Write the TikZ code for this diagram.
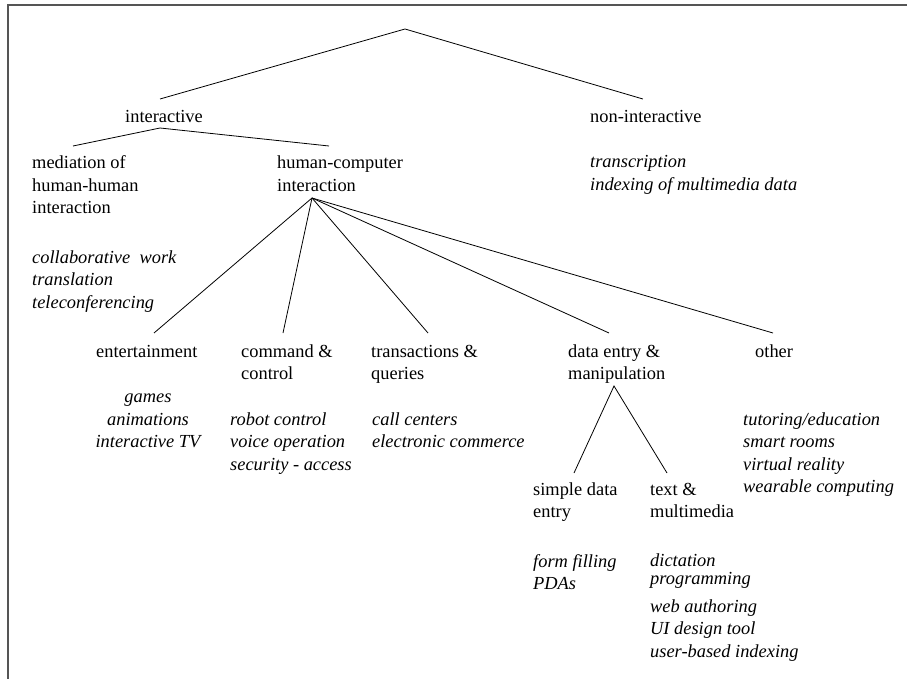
\documentclass[tikz,border=0pt]{standalone}
\usepackage{fontspec}
\setmainfont{Liberation Serif}
\usetikzlibrary{calc}
\definecolor{FrameGray}{RGB}{85,85,85}
\tikzset{
	term/.style={anchor=base west,inner sep=0pt,align=left,font=\fontsize{18.4}{22.5}\selectfont},
	usage/.style={term,font=\fontsize{18.4}{22.5}\selectfont\itshape},
	branch/.style={draw=black,line width=0.8pt},
}
\begin{document}
\begin{tikzpicture}[x=1pt,y=-1pt]
	\useasboundingbox (0,0) rectangle (907,679);
	\draw[FrameGray,line width=1.5pt] (8,679) -- (8,5) -- (907,5);
	\coordinate (root) at (405,29);
	\node[term] (inter) at (125,123) {interactive};
	\node[term] (nonint) at (590,123) {non-interactive};
	\node[usage] (nonintex) at (590,190.5) {transcription\\indexing of multimedia data};
	\node[term] (med) at (32,214) {mediation of\\human-human\\interaction};
	\node[usage] (medex) at (32,308) {collaborative\ \ work\\translation\\teleconferencing};
	\node[term] (hci) at (277,191.5) {human-computer\\interaction};
	\node[term] (ent) at (96,357) {entertainment};
	\node[term] (cmd) at (241,379.5) {command \&\\control};
	\node[term] (trans) at (371,379.5) {transactions \&\\queries};
	\node[term] (data) at (568,379.5) {data entry \&\\manipulation};
	\node[term] (other) at (755,357) {other};
	\node[usage,anchor=base,align=center] (entex) at (148,447.5) {games\\animations\\interactive TV};
	\node[usage] (cmdex) at (230,470) {robot control\\voice operation\\security - access};
	\node[usage] (transex) at (372,447.5) {call centers\\electronic commerce};
	\node[usage] (otherex) at (743,492.5) {tutoring/education\\smart rooms\\virtual reality\\wearable computing};
	\node[term] (simple) at (533,517.5) {simple data\\entry};
	\node[term] (text) at (650,517.5) {text \&\\multimedia};
	\node[usage] (simpleex) at (533,589.5) {form filling\\PDAs};
	\node[usage] (textex) at (650,657) {dictation\\[-4.5pt]programming\\[5.5pt]web authoring\\UI design tool\\user-based indexing};
	\draw[branch] ($(inter.base)+(-4,-24)$) -- (root) -- ($(nonint.base)+(-3,-24)$);
	\draw[branch] ($(med.base west)+(41,-68)$) -- ($(inter.base)+(-4,5)$) -- ($(hci.base west)+(52,-45.5)$);
	\coordinate (hub) at ($(hci.base west)+(35,6.5)$);
	\draw[branch] (hub) -- ($(ent.base west)+(58,-24)$);
	\draw[branch] (hub) -- ($(cmd.base west)+(42,-46.5)$);
	\draw[branch] (hub) -- ($(trans.base west)+(57,-46.5)$);
	\draw[branch] (hub) -- ($(data.base west)+(41,-46.5)$);
	\draw[branch] (hub) -- ($(other.base west)+(18,-24)$);
	\draw[branch] ($(simple.base west)+(41,-44.5)$) -- ($(data.base west)+(46,6.5)$) -- ($(text.base west)+(17,-44.5)$);
\end{tikzpicture}
\end{document}
